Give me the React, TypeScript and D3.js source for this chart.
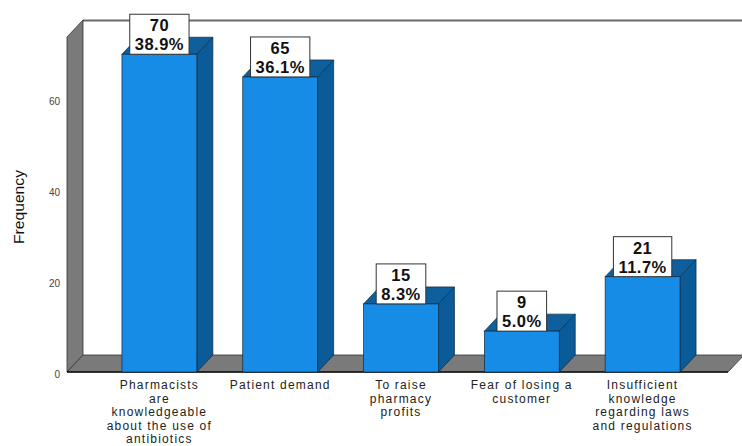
import React, { useEffect, useRef } from "react";
import * as d3 from "d3";

const categoryKeys = ["pharm", "demand", "profits", "fear", "insufficient"];
const categoryLines: string[][] = [
  ["Pharmacists", "are", "knowledgeable", "about the use of", "antibiotics"],
  ["Patient demand"],
  ["To raise", "pharmacy", "profits"],
  ["Fear of losing a", "customer"],
  ["Insufficient", "knowledge", "regarding laws", "and regulations"],
];
const counts = [70, 65, 15, 9, 21];
const percents = ["38.9%", "36.1%", "8.3%", "5.0%", "11.7%"];
const yTicks = [0, 20, 40, 60];
const yLabel = "Frequency";

export default function App() {
  const ref = useRef<SVGSVGElement | null>(null);

  useEffect(() => {
    document.body.style.margin = "0";
    const svg = d3.select(ref.current);
    svg.selectAll("*").remove();

    const W = 742;
    const DX = 16;
    const DY = 17;
    const x0 = 67;
    const base = 372;

    const x = d3
      .scaleBand<string>()
      .domain(categoryKeys)
      .range([99, 703])
      .paddingInner(0.38)
      .paddingOuter(0.19);
    const y = d3.scaleLinear().domain([0, 73.8]).range([base, 37]);
    const top = y(73.8);
    const bw = x.bandwidth();

    const font = "'Liberation Sans', Arial, sans-serif";
    const pts = (a: number[][]) => a.map((p) => p.join(",")).join(" ");

    // back wall top line
    svg
      .append("line")
      .attr("x1", x0 + DX)
      .attr("x2", W)
      .attr("y1", top - DY + 0.5)
      .attr("y2", top - DY + 0.5)
      .attr("stroke", "#6a6a6a")
      .attr("stroke-width", 2);

    // left wall
    svg
      .append("polygon")
      .attr(
        "points",
        pts([
          [x0, top],
          [x0 + DX, top - DY],
          [x0 + DX, base - DY],
          [x0, base],
        ])
      )
      .attr("fill", "#7a7a7a")
      .attr("stroke", "#333")
      .attr("stroke-width", 0.8);

    // floor
    svg
      .append("polygon")
      .attr(
        "points",
        pts([
          [x0, base],
          [x0 + DX, base - DY],
          [W + 2, base - DY],
          [W + 2 - DX, base],
        ])
      )
      .attr("fill", "#7a7a7a")
      .attr("stroke", "#333")
      .attr("stroke-width", 0.8);

    svg
      .append("line")
      .attr("x1", x0)
      .attr("x2", W + 2 - DX)
      .attr("y1", base)
      .attr("y2", base)
      .attr("stroke", "#111")
      .attr("stroke-width", 1.5);

    // tick labels
    svg
      .selectAll("text.tick")
      .data(yTicks)
      .enter()
      .append("text")
      .attr("class", "tick")
      .attr("x", 60)
      .attr("y", (d) => y(d) + 2)
      .attr("text-anchor", "end")
      .attr("dominant-baseline", "central")
      .attr("font-family", font)
      .attr("font-size", 10)
      .attr("fill", "#444")
      .text((d) => String(d));

    // y label
    svg
      .append("text")
      .attr("transform", `translate(24,207) rotate(-90)`)
      .attr("text-anchor", "middle")
      .attr("font-family", font)
      .attr("font-size", 15)
      .attr("fill", "#111")
      .attr("textLength", 74)
      .attr("lengthAdjust", "spacingAndGlyphs")
      .text(yLabel);

    // bars
    const g = svg.append("g");
    categoryKeys.forEach((k, i) => {
      const bx = x(k) as number;
      const by = y(counts[i]);
      g.append("polygon")
        .attr(
          "points",
          pts([
            [bx + bw, by],
            [bx + bw + DX, by - DY],
            [bx + bw + DX, base - DY],
            [bx + bw, base],
          ])
        )
        .attr("fill", "#0b5b98")
        .attr("stroke", "#0a2a45")
        .attr("stroke-width", 0.7);
      g.append("polygon")
        .attr(
          "points",
          pts([
            [bx, by],
            [bx + DX, by - DY],
            [bx + bw + DX, by - DY],
            [bx + bw, by],
          ])
        )
        .attr("fill", "#0e5f9c")
        .attr("stroke", "#0a2a45")
        .attr("stroke-width", 0.7);
      g.append("rect")
        .attr("x", bx)
        .attr("y", by)
        .attr("width", bw)
        .attr("height", base - by)
        .attr("fill", "#168ce6")
        .attr("stroke", "#0a2a45")
        .attr("stroke-width", 0.7);
    });

    // value labels
    categoryKeys.forEach((k, i) => {
      const cx = (x(k) as number) + bw / 2;
      const by = y(counts[i]);
      const lg = svg.append("g");
      const rect = lg.append("rect");
      const mk = (txt: string, yy: number) =>
        lg
          .append("text")
          .attr("x", cx)
          .attr("y", yy)
          .attr("text-anchor", "middle")
          .attr("font-family", font)
          .attr("font-weight", "bold")
          .attr("font-size", 16.5)
          .attr("letter-spacing", 0.5)
          .attr("fill", "#111")
          .text(txt);
      const t1 = mk(String(counts[i]), by - 23);
      const t2 = mk(percents[i], by - 4);
      const w = Math.max(
        (t1.node() as SVGTextElement).getComputedTextLength(),
        (t2.node() as SVGTextElement).getComputedTextLength()
      );
      const bwBox = w + 10;
      rect
        .attr("x", cx - bwBox / 2)
        .attr("y", by - 40)
        .attr("width", bwBox)
        .attr("height", 40)
        .attr("fill", "#fff")
        .attr("stroke", "#333")
        .attr("stroke-width", 1);
    });

    // category labels
    categoryKeys.forEach((k, i) => {
      const cx = (x(k) as number) + bw / 2;
      const t = svg
        .append("text")
        .attr("text-anchor", "middle")
        .attr("font-family", font)
        .attr("font-size", 12)
        .attr("letter-spacing", 1.2)
        .attr("fill", "#222");
      categoryLines[i].forEach((line, j) => {
        t.append("tspan")
          .attr("x", cx)
          .attr("y", 389 + j * 13.6)
          .text(line);
      });
    });
  }, []);

  return (
    <svg
      ref={ref}
      width={742}
      height={446}
      style={{ display: "block", background: "#fff" }}
    />
  );
}
